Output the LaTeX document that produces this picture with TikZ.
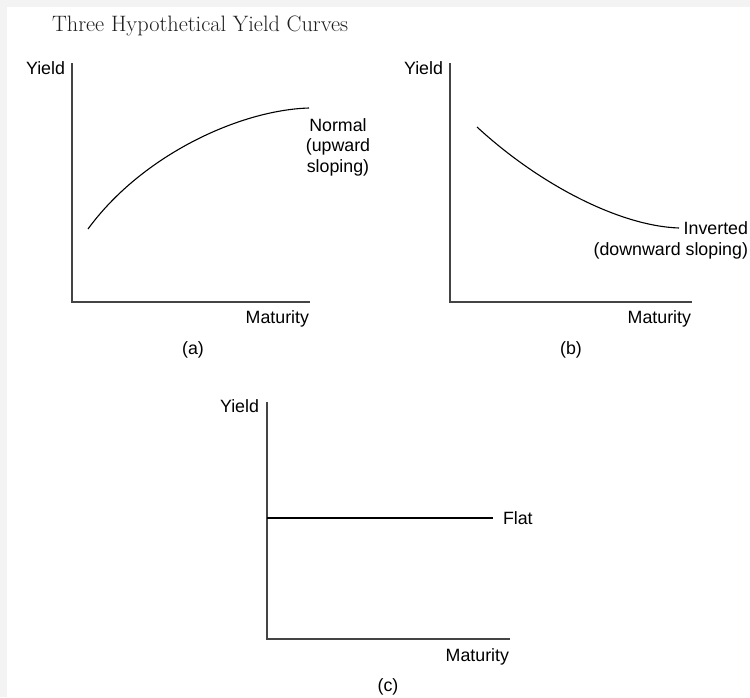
\documentclass[tikz,border=0pt]{standalone}
\usepackage{fontspec}
\newfontfamily\labelfont{Liberation Sans}
\usetikzlibrary{positioning,calc}
\definecolor{frameGray}{HTML}{F3F3F3}
\definecolor{axisGray}{HTML}{444444}
\definecolor{titleInk}{HTML}{1E1E1E}

\begin{document}
\begin{tikzpicture}[
    x=1pt, y=-1pt,
    every node/.style={inner sep=0pt, outer sep=0pt},
    lbl/.style={font=\labelfont\fontsize{17.8}{20.5}\selectfont, text=black},
    axis/.style={draw=axisGray, line width=1.3pt},
    ycurve/.style={draw=black, line width=1.1pt},
  ]
  % page frame
  \fill[frameGray] (0,0) rectangle (750,697);
  \fill[white] (7,6.5) rectangle (750,697);
  \useasboundingbox (0,0) rectangle (750,697);

  % Title
  \node[font=\fontsize{22.3}{26}\selectfont, text=titleInk, anchor=base west]
    (title) at (52,31) {Three Hypothetical Yield Curves};

  % Panel (a) - normal
  \coordinate (ya) at (72,63);
  \coordinate (oa) at (72,302);
  \coordinate (xa) at (310,302);
  \draw[axis] (ya) -- (oa) -- (xa);
  \node[lbl, anchor=base east] (yielda) at (65,74) {Yield};
  \node[lbl, anchor=base east] (mata) at (309,323.5) {Maturity};
  \node[lbl, anchor=base] (capa) at (193,354) {(a)};
  \coordinate (sa) at (88,229);
  \coordinate (ea) at (309,108);
  \draw[ycurve] (sa) .. controls (142,155) and (240,110) .. (ea);
  \node[lbl, align=center, anchor=north] (norm) at (338,118.5)
    {Normal\\(upward\\sloping)};

  % Panel (b) - inverted
  \coordinate (yb) at (450,63);
  \coordinate (ob) at (450,302);
  \coordinate (xb) at (692,302);
  \draw[axis] (yb) -- (ob) -- (xb);
  \node[lbl, anchor=base east] (yieldb) at (443,74) {Yield};
  \node[lbl, anchor=base east] (matb) at (691,323.5) {Maturity};
  \node[lbl, anchor=base] (capb) at (571,354) {(b)};
  \node[lbl, align=right, anchor=north east] (inv) at (748,222)
    {Inverted\\(downward sloping)};
  \coordinate (sb) at (477,127);
  \coordinate (eb) at (679,228);
  \draw[ycurve] (sb) .. controls (540,185) and (620,226) .. (eb);

  % Panel (c) - flat
  \coordinate (yc) at (267,402);
  \coordinate (oc) at (267,639);
  \coordinate (xc) at (510,639);
  \draw[axis] (yc) -- (oc) -- (xc);
  \node[lbl, anchor=base east] (yieldc) at (259,412) {Yield};
  \node[lbl, anchor=base east] (matc) at (509,661) {Maturity};
  \node[lbl, anchor=base] (capc) at (388,691) {(c)};
  \node[lbl, anchor=base west] (flat) at (503,524) {Flat};
  \coordinate (fc) at (267,518);
  \draw[ycurve] (fc) -- ($(flat.west |- fc)+(-10,0)$);
\end{tikzpicture}
\end{document}
